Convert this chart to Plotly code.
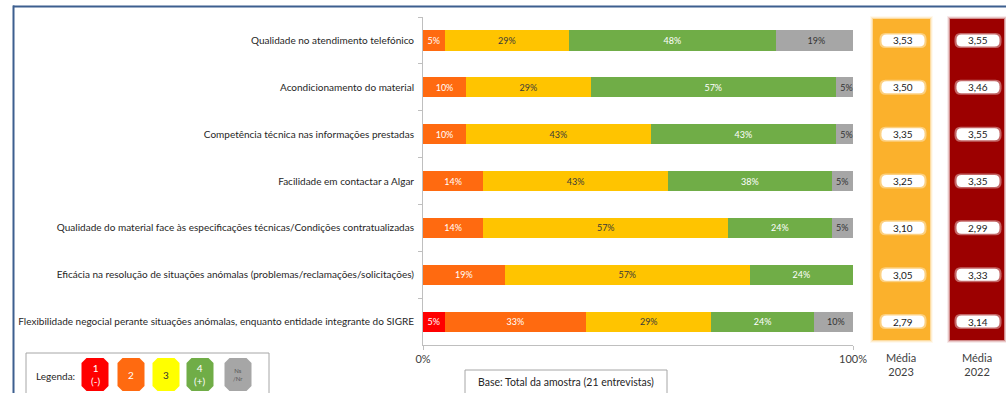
import plotly.graph_objects as go

# Survey items (top to bottom)
categories = [
    "Qualidade no atendimento telefónico",
    "Acondicionamento do material",
    "Competência técnica nas informações prestadas",
    "Facilidade em contactar a Algar",
    "Qualidade do material face às especificações técnicas/Condições contratualizadas",
    "Eficácia na resolução de situações anómalas (problemas/reclamações/solicitações)",
    "Flexibilidade negocial perante situações anómalas, enquanto entidade integrante do SIGRE",
]

# Share of answers per rating level (%)
pct_1 = [0, 0, 0, 0, 0, 0, 5]
pct_2 = [5, 10, 10, 14, 14, 19, 33]
pct_3 = [29, 29, 43, 43, 57, 57, 29]
pct_4 = [48, 57, 43, 38, 24, 24, 24]
pct_ns = [19, 5, 5, 5, 5, 0, 10]

# Average score per item
media_2023 = [3.53, 3.50, 3.35, 3.25, 3.10, 3.05, 2.79]
media_2022 = [3.55, 3.46, 3.55, 3.35, 2.99, 3.33, 3.14]

x_ticks = [0, 100]
x_tick_labels = ["0%", "100%"]

legend_labels = ["1<br>(-)", "2", "3", "4<br>(+)", "Ns<br>/Nr"]
base_note = "Base: Total da amostra (21 entrevistas)"

FONT = "Lato"
W, H = 1006, 393
ML, MR, MT, MB = 423, 153, 17, 48
PW, PH = W - ML - MR, H - MT - MB
ROW_H = PH / len(categories)


def px(x):
    return (x - ML) / PW


def py(y):
    return (H - MB - y) / PH


def label(x, y, text, size, color, xanchor="center", yref="paper"):
    return dict(x=x, y=y, xref="paper", yref=yref, text=text, showarrow=False,
                xanchor=xanchor, yanchor="middle",
                font=dict(family=FONT, size=size, color=color))


series = [
    (pct_1, "#FF0000", "#FFFFFF"),
    (pct_2, "#FF6A10", "#FFFFFF"),
    (pct_3, "#FFC400", "#3A3A3A"),
    (pct_4, "#70AD47", "#FFFFFF"),
    (pct_ns, "#A6A6A6", "#333333"),
]

fig = go.Figure()
for vals, color, tcolor in series:
    fig.add_trace(go.Bar(
        x=vals, y=categories, orientation="h",
        marker=dict(color=color, line=dict(width=0)),
        text=[f"{v}%" if v else "" for v in vals],
        textposition="inside", insidetextanchor="middle", textangle=0,
        constraintext="none",
        textfont=dict(family=FONT, size=9, color=tcolor),
        hoverinfo="skip", showlegend=False,
    ))

shapes = []
annotations = []

# Frame
shapes.append(dict(type="line", xref="paper", yref="paper", x0=px(13), x1=px(1010),
                   y0=py(6.5), y1=py(6.5), line=dict(color="#3D5F8F", width=2)))
shapes.append(dict(type="line", xref="paper", yref="paper", x0=px(13.5), x1=px(13.5),
                   y0=py(5.5), y1=py(400), line=dict(color="#3D5F8F", width=2)))

# Average columns with soft edges
for x0, x1, color in [(872, 931, "#FBB12C"), (949, 1005, "#9C0000")]:
    for grow, op in [(3, 0.08), (2, 0.15), (1, 0.3), (0, 1.0)]:
        shapes.append(dict(type="rect", xref="paper", yref="paper",
                           x0=px(x0 - grow + 1), x1=px(x1 + grow - 1),
                           y0=py(341 + grow - 1), y1=py(18 - grow + 1),
                           fillcolor=color, opacity=op, line=dict(width=0), layer="below"))


def pill(xc, yi, w, h, r):
    x0, x1 = px(xc - w / 2), px(xc + w / 2)
    rx = r / PW
    y0, y1 = yi - h / 2 / ROW_H, yi + h / 2 / ROW_H
    ry = r / ROW_H
    return (f"M {x0 + rx},{y0} L {x1 - rx},{y0} Q {x1},{y0} {x1},{y0 + ry} "
            f"L {x1},{y1 - ry} Q {x1},{y1} {x1 - rx},{y1} L {x0 + rx},{y1} "
            f"Q {x0},{y1} {x0},{y1 - ry} L {x0},{y0 + ry} Q {x0},{y0} {x0 + rx},{y0} Z")


for col_x, values in [(903, media_2023), (978, media_2022)]:
    for i, v in enumerate(values):
        shapes.append(dict(type="path", xref="paper", yref="y", path=pill(col_x, i, 47, 15, 6),
                           fillcolor="#FFFFFF", opacity=0.4, line=dict(width=0)))
        shapes.append(dict(type="path", xref="paper", yref="y", path=pill(col_x, i, 43, 12, 5),
                           fillcolor="#FFFFFF", line=dict(width=0)))
        annotations.append(label(px(col_x), categories[i], f"{v:.2f}".replace(".", ","),
                                 10, "#1A1A1A", yref="y"))

for xc, year in [(901, "2023"), (977, "2022")]:
    annotations.append(label(px(xc), py(364.5), f"Média<br>{year}", 11, "#404040"))

# Legend box
shapes.append(dict(type="rect", xref="paper", yref="paper", x0=px(26), x1=px(269),
                   y0=py(400), y1=py(353), fillcolor="#FFFFFF",
                   line=dict(color="#A6A6A6", width=1)))
annotations.append(label(px(34), py(376), "Legenda:", 10, "#262626", xanchor="left"))

tile_colors = ["#FF0000", "#FF6A10", "#FFFF00", "#70AD47", "#A6A6A6"]
tile_text = ["#FFFFFF", "#FFFFFF", "#333333", "#FFFFFF", "#555555"]
tile_centers = [95, 131, 166, 200, 238]
for xc, color, tc, lab in zip(tile_centers, tile_colors, tile_text, legend_labels):
    x0, x1, y0, y1, c = xc - 13.5, xc + 13.5, 358, 391, 5
    pts = [(x0 + c, y0), (x1 - c, y0), (x1, y0 + c), (x1, y1 - c),
           (x1 - c, y1), (x0 + c, y1), (x0, y1 - c), (x0, y0 + c)]
    path = "M " + " L ".join(f"{px(a)},{py(b)}" for a, b in pts) + " Z"
    shapes.append(dict(type="path", xref="paper", yref="paper", path=path,
                       fillcolor=color, line=dict(width=0)))
    small = lab.startswith("Ns")
    annotations.append(label(px(xc), py(374.5), lab, 6 if small else 10, tc))

# Sample base note
shapes.append(dict(type="rect", xref="paper", yref="paper", x0=px(465), x1=px(667),
                   y0=py(400), y1=py(370), fillcolor="#FFFFFF",
                   line=dict(color="#A6A6A6", width=1)))
annotations.append(label(px(566), py(381.5), base_note, 10.5, "#262626"))

fig.update_layout(
    width=W, height=H, autosize=False,
    margin=dict(l=ML, r=MR, t=MT, b=MB, pad=0),
    paper_bgcolor="#FFFFFF", plot_bgcolor="#FFFFFF",
    barmode="stack", bargap=0.57,
    font=dict(family=FONT),
    shapes=shapes, annotations=annotations,
    xaxis=dict(range=[0, 100], tickvals=x_ticks, ticktext=x_tick_labels,
               showline=True, linecolor="#BFBFBF", ticks="outside", ticklen=4,
               tickcolor="#BFBFBF", showgrid=False, zeroline=False,
               tickfont=dict(family=FONT, size=11, color="#404040"), fixedrange=True),
    yaxis=dict(type="category", autorange="reversed", showline=True, linecolor="#BFBFBF",
               ticks="outside", tickson="boundaries", ticklen=4, tickcolor="#BFBFBF",
               showgrid=False, tickfont=dict(family=FONT, size=10, color="#262626"),
               ticklabelstandoff=6, fixedrange=True),
)

fig.write_html("out.html")
